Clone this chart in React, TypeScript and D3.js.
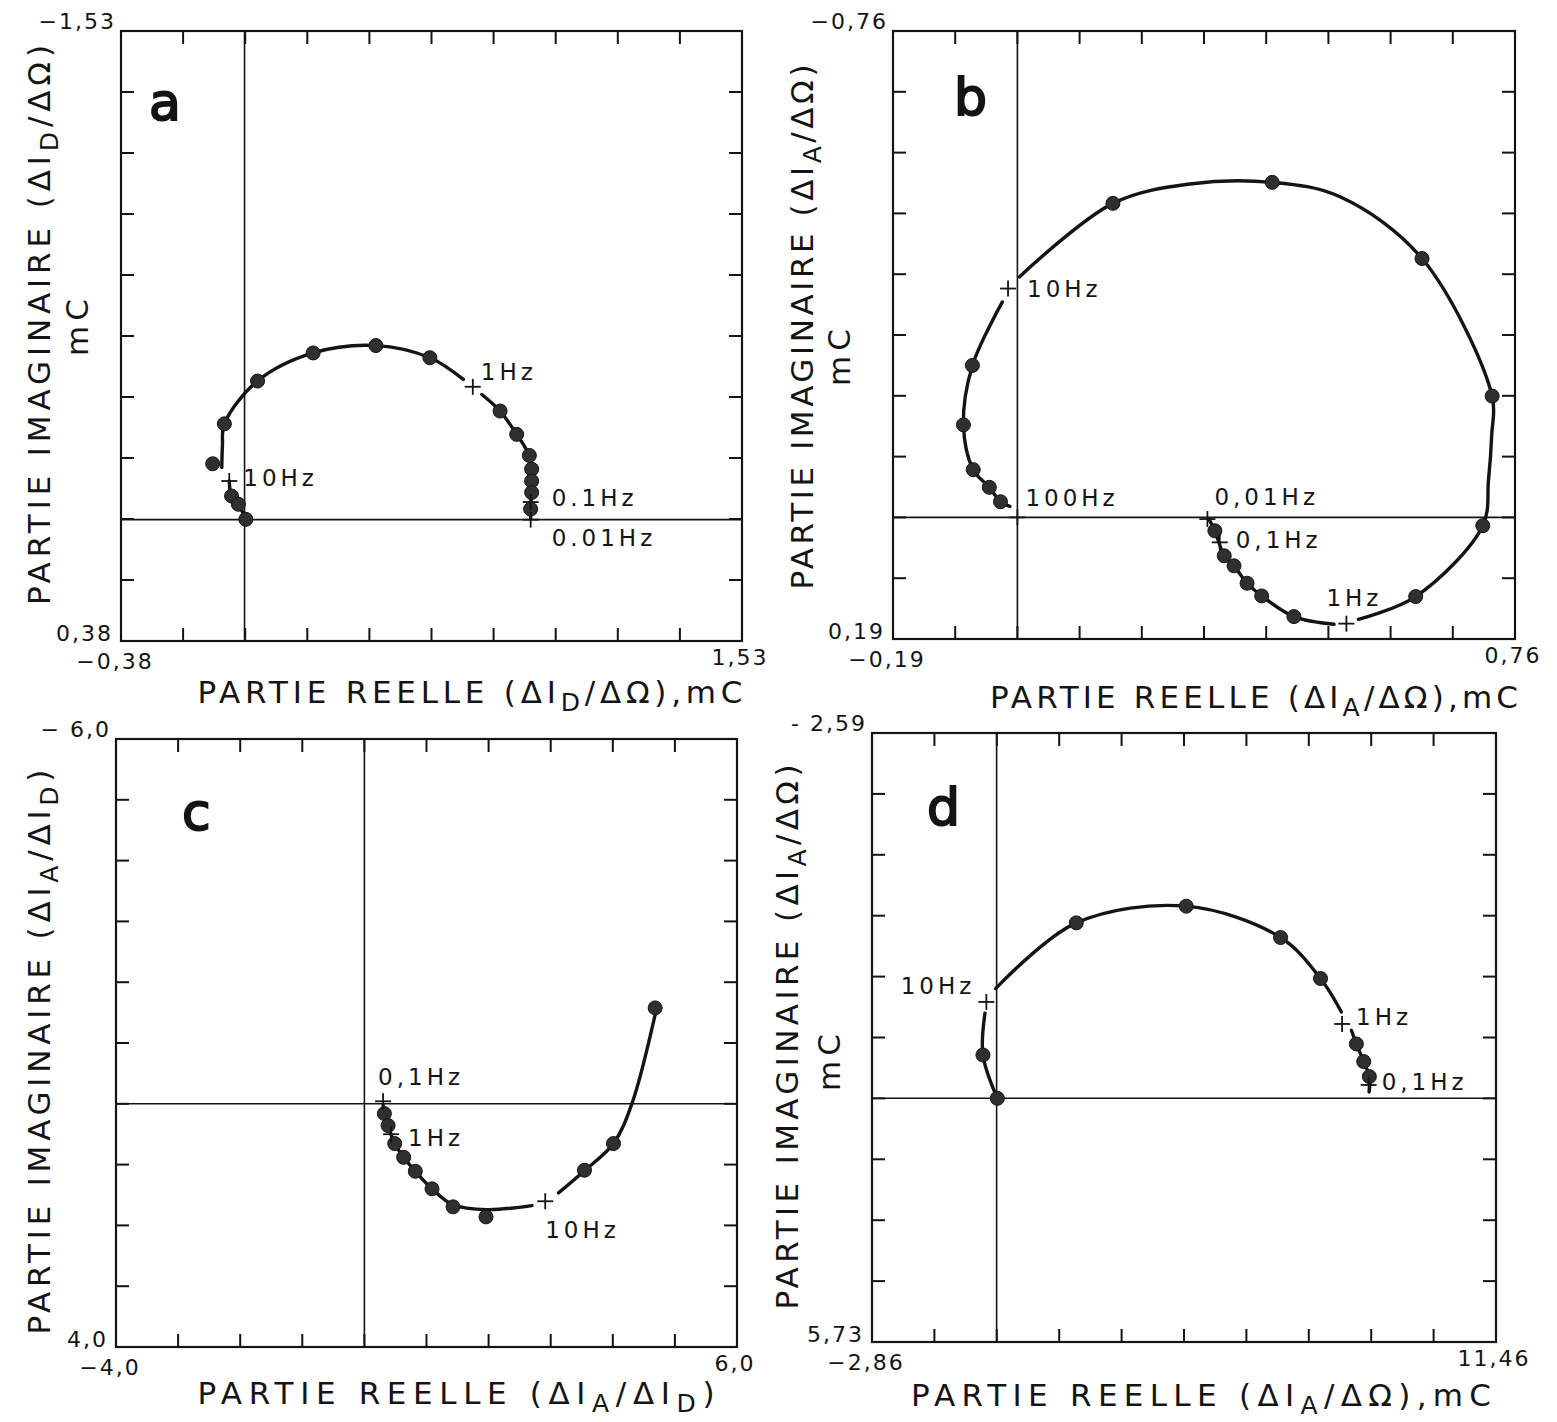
import React from 'react';
import * as d3 from 'd3';

type Pt = [number, number];
type Piece = [string, boolean];
type Cross = { label: string; x: number; y: number };

const FONT = '"DejaVu Sans", Verdana, sans-serif';

// ---------- panel a ----------
const A_X_DOMAIN: Pt = [-0.38, 1.53];
const A_Y_DOMAIN: Pt = [-1.53, 0.38];
const A_TICK_LABELS = ['−1,53', '0,38', '−0,38', '1,53'];
const A_X_TITLE: Piece[] = [['PARTIE REELLE (ΔI', false], ['D', true], ['/ΔΩ),mC', false]];
const A_Y_TITLE: Piece[] = [['PARTIE IMAGINAIRE (ΔI', false], ['D', true], ['/ΔΩ)', false]];
const A_DOTS: Pt[] = [
  [-0.098, -0.175], [-0.062, -0.3], [0.04, -0.434], [0.211, -0.522], [0.404, -0.545],
  [0.57, -0.507], [0.786, -0.34], [0.837, -0.267], [0.876, -0.201], [0.883, -0.158],
  [0.883, -0.121], [0.883, -0.085], [0.88, -0.033], [-0.04, -0.074], [-0.019, -0.048], [0.004, -0.001],
];
const A_CURVE: Pt[][] = [
  [[0.004, -0.001], [-0.019, -0.048], [-0.04, -0.074], [-0.047, -0.121]],
  [[-0.07, -0.163], [-0.068, -0.23], [-0.062, -0.3], [0.04, -0.434], [0.211, -0.522], [0.404, -0.545], [0.57, -0.507], [0.673, -0.439]],
  [[0.73, -0.392], [0.786, -0.34], [0.837, -0.267], [0.876, -0.201], [0.883, -0.158], [0.884, -0.1], [0.88, -0.033], [0.88, -0.005]],
];
const A_CROSSES: Cross[] = [
  { label: '1Hz', x: 0.702, y: -0.416 },
  { label: '10Hz', x: -0.047, y: -0.121 },
  { label: '0.1Hz', x: 0.88, y: -0.055 },
  { label: '0.01Hz', x: 0.88, y: 0.0 },
];

// ---------- panel b ----------
const B_X_DOMAIN: Pt = [-0.19, 0.76];
const B_Y_DOMAIN: Pt = [-0.76, 0.19];
const B_TICK_LABELS = ['−0,76', '0,19', '−0,19', '0,76'];
const B_X_TITLE: Piece[] = [['PARTIE REELLE (ΔI', false], ['A', true], ['/ΔΩ),mC', false]];
const B_Y_TITLE: Piece[] = [['PARTIE IMAGINAIRE (ΔI', false], ['A', true], ['/ΔΩ)', false]];
const B_DOTS: Pt[] = [
  [-0.0258, -0.0245], [-0.0429, -0.047], [-0.0675, -0.0746], [-0.0824, -0.1446], [-0.0687, -0.2375],
  [0.1459, -0.4907], [0.3892, -0.5235], [0.618, -0.4045], [0.7251, -0.1895], [0.7108, 0.013],
  [0.6083, 0.1237], [0.4223, 0.155], [0.3731, 0.1227], [0.3508, 0.1028], [0.3308, 0.0757],
  [0.3159, 0.06], [0.3016, 0.0209],
];
const B_CURVE: Pt[][] = [
  [[-0.0114, -0.0172], [-0.0258, -0.0245], [-0.0429, -0.047], [-0.0675, -0.0746], [-0.0824, -0.1446], [-0.0687, -0.2375], [-0.0229, -0.3367]],
  [[0.0029, -0.3758], [0.1459, -0.4907], [0.2636, -0.521], [0.3892, -0.5235], [0.4927, -0.501], [0.618, -0.4045], [0.7251, -0.1895], [0.7245, -0.13], [0.7195, -0.058], [0.7108, 0.013], [0.6083, 0.1237], [0.5208, 0.1592]],
  [[0.4836, 0.167], [0.4223, 0.155], [0.3731, 0.1227], [0.3508, 0.1028], [0.3308, 0.0757], [0.3159, 0.06], [0.3016, 0.0209], [0.2919, 0.0016]],
];
const B_CROSSES: Cross[] = [
  { label: '10Hz', x: -0.0143, y: -0.3576 },
  { label: '100Hz', x: 0, y: 0 },
  { label: '0,01Hz', x: 0.2902, y: 0.0026 },
  { label: '0,1Hz', x: 0.309, y: 0.039 },
  { label: '1Hz', x: 0.5025, y: 0.166 },
];

// ---------- panel c ----------
const C_X_DOMAIN: Pt = [-4, 6];
const C_Y_DOMAIN: Pt = [-6, 4];
const C_TICK_LABELS = ['− 6,0', '4,0', '−4,0', '6,0'];
const C_X_TITLE: Piece[] = [['PARTIE REELLE (ΔI', false], ['A', true], ['/ΔI', false], ['D', true], [')', false]];
const C_Y_TITLE: Piece[] = [['PARTIE IMAGINAIRE (ΔI', false], ['A', true], ['/ΔI', false], ['D', true], [')', false]];
const C_DOTS: Pt[] = [
  [0.322, 0.161], [0.381, 0.358], [0.488, 0.654], [0.632, 0.88], [0.82, 1.11], [1.089, 1.399],
  [1.427, 1.695], [1.958, 1.86], [3.544, 1.093], [4.011, 0.654], [4.682, -1.577],
];
const C_CURVE: Pt[][] = [
  [[0.301, 0.013], [0.322, 0.161], [0.381, 0.358], [0.488, 0.654], [0.632, 0.88], [0.82, 1.11], [1.089, 1.399], [1.427, 1.66], [1.974, 1.74], [2.698, 1.674]],
  [[3.126, 1.465], [3.544, 1.1], [4.011, 0.654], [4.307, 0.0], [4.682, -1.467]],
];
const C_CROSSES: Cross[] = [
  { label: '0,1Hz', x: 0.301, y: -0.041 },
  { label: '1Hz', x: 0.43, y: 0.5 },
  { label: '10Hz', x: 2.912, y: 1.603 },
];

// ---------- panel d ----------
const D_X_DOMAIN: Pt = [-2.86, 11.46];
const D_Y_DOMAIN: Pt = [-8.59, 5.73];
const D_TICK_LABELS = ['- 2,59', '5,73', '−2,86', '11,46'];
const D_X_TITLE: Piece[] = [['PARTIE REELLE (ΔI', false], ['A', true], ['/ΔΩ),mC', false]];
const D_Y_TITLE: Piece[] = [['PARTIE IMAGINAIRE (ΔI', false], ['A', true], ['/ΔΩ)', false]];
const D_DOTS: Pt[] = [
  [0.016, 0], [-0.314, -1.019], [1.828, -4.125], [4.351, -4.518], [6.516, -3.781],
  [7.433, -2.817], [8.256, -1.278], [8.424, -0.864], [8.554, -0.511],
];
const D_CURVE: Pt[][] = [
  [[0.016, 0], [-0.314, -1.019], [-0.268, -2.0]],
  [[-0.023, -2.581], [1.828, -4.125], [4.351, -4.518], [6.516, -3.781], [7.433, -2.817], [7.912, -2.031]],
  [[8.141, -1.6], [8.256, -1.278], [8.424, -0.864], [8.554, -0.511], [8.55, -0.15]],
];
const D_CROSSES: Cross[] = [
  { label: '10Hz', x: -0.236, y: -2.266 },
  { label: '1Hz', x: 7.928, y: -1.748 },
  { label: '0,1Hz', x: 8.538, y: -0.313 },
];

// label offsets (px) from the cross, and anchor
const A_LABEL_POS: [number, number, string][] = [[8, -7, 'start'], [14, 5, 'start'], [21, 4, 'start'], [21, 26, 'start']];
const B_LABEL_POS: [number, number, string][] = [[19, 8, 'start'], [8, -11, 'start'], [7, -14, 'start'], [16, 6, 'start'], [-20, -18, 'start']];
const C_LABEL_POS: [number, number, string][] = [[-5, -16, 'start'], [17, 12, 'start'], [0, 37, 'start']];
const D_LABEL_POS: [number, number, string][] = [[-11, -8, 'end'], [14, 1, 'start'], [13, 5, 'start']];

const PANELS = [
  {
    id: 'a', letter: 'a', xDomain: A_X_DOMAIN, yDomain: A_Y_DOMAIN, tickLabels: A_TICK_LABELS,
    xTitle: A_X_TITLE, yTitle: A_Y_TITLE, unit: true, dots: A_DOTS, curve: A_CURVE, crosses: A_CROSSES, labelPos: A_LABEL_POS,
    box: { left: 121, top: 31, right: 742, bottom: 641 }, letterAt: [149, 120],
    xTitleAt: [470, 703, 545], yTitleAt: [50, 325, 560], unitAt: [88, 325],
  },
  {
    id: 'b', letter: 'b', xDomain: B_X_DOMAIN, yDomain: B_Y_DOMAIN, tickLabels: B_TICK_LABELS,
    xTitle: B_X_TITLE, yTitle: B_Y_TITLE, unit: true, dots: B_DOTS, curve: B_CURVE, crosses: B_CROSSES, labelPos: B_LABEL_POS,
    box: { left: 893, top: 31, right: 1515, bottom: 639 }, letterAt: [954, 115],
    xTitleAt: [1254, 708, 528], yTitleAt: [813, 327, 525], unitAt: [850, 355],
  },
  {
    id: 'c', letter: 'c', xDomain: C_X_DOMAIN, yDomain: C_Y_DOMAIN, tickLabels: C_TICK_LABELS,
    xTitle: C_X_TITLE, yTitle: C_Y_TITLE, unit: false, dots: C_DOTS, curve: C_CURVE, crosses: C_CROSSES, labelPos: C_LABEL_POS,
    box: { left: 116, top: 739, right: 737, bottom: 1347 }, letterAt: [182, 830],
    xTitleAt: [456, 1404, 517], yTitleAt: [50, 1052, 565], unitAt: [0, 0],
  },
  {
    id: 'd', letter: 'd', xDomain: D_X_DOMAIN, yDomain: D_Y_DOMAIN, tickLabels: D_TICK_LABELS,
    xTitle: D_X_TITLE, yTitle: D_Y_TITLE, unit: true, dots: D_DOTS, curve: D_CURVE, crosses: D_CROSSES, labelPos: D_LABEL_POS,
    box: { left: 872, top: 733, right: 1496, bottom: 1342 }, letterAt: [927, 825],
    xTitleAt: [1201, 1406, 580], yTitleAt: [798, 1037, 545], unitAt: [840, 1060],
  },
];

const INK = '#141414';
const TICK_LEN = 13;
const TITLE_SIZE = 31;

function Title({ pieces, x, y, len, rotate }: { pieces: Piece[]; x: number; y: number; len: number; rotate?: boolean }) {
  const sub = 8;
  let down = false;
  return (
    <text
      x={x} y={y}
      transform={rotate ? `rotate(-90 ${x} ${y})` : undefined}
      textAnchor="middle" fontFamily={FONT} fontSize={TITLE_SIZE} fill={INK}
      textLength={len} lengthAdjust="spacing"
    >
      {pieces.map(([t, isSub], i) => {
        let dy = 0;
        if (isSub && !down) { dy = sub; down = true; }
        else if (!isSub && down) { dy = -sub; down = false; }
        return (
          <tspan key={i} dy={dy} fontSize={isSub ? 25 : TITLE_SIZE}>{t}</tspan>
        );
      })}
    </text>
  );
}

function Panel({ p }: { p: (typeof PANELS)[number] }) {
  const { left, top, right, bottom } = p.box;
  const x = d3.scaleLinear().domain(p.xDomain).range([left, right]);
  const y = d3.scaleLinear().domain(p.yDomain).range([top, bottom]);
  const xt = d3.range(1, 10).map(i => p.xDomain[0] + (i * (p.xDomain[1] - p.xDomain[0])) / 10);
  const yt = d3.range(1, 10).map(i => p.yDomain[0] + (i * (p.yDomain[1] - p.yDomain[0])) / 10);
  const line = d3.line<Pt>().x(d => x(d[0])).y(d => y(d[1])).curve(d3.curveCatmullRom.alpha(0.5));
  const [tl, bl, lx, rx] = p.tickLabels;
  const tickFont = { fontFamily: FONT, fontSize: 22, letterSpacing: 2, fill: INK } as const;

  return (
    <g>
      {/* zero axes */}
      <line x1={x(0)} x2={x(0)} y1={top} y2={bottom} stroke={INK} strokeWidth={1.6} />
      <line x1={left} x2={right} y1={y(0)} y2={y(0)} stroke={INK} strokeWidth={1.6} />
      {/* frame */}
      <rect x={left} y={top} width={right - left} height={bottom - top} fill="none" stroke={INK} strokeWidth={2.2} />
      {/* inward ticks */}
      {xt.map((v, i) => (
        <g key={'x' + i}>
          <line x1={x(v)} x2={x(v)} y1={top} y2={top + TICK_LEN} stroke={INK} strokeWidth={2} />
          <line x1={x(v)} x2={x(v)} y1={bottom} y2={bottom - TICK_LEN} stroke={INK} strokeWidth={2} />
        </g>
      ))}
      {yt.map((v, i) => (
        <g key={'y' + i}>
          <line x1={left} x2={left + TICK_LEN} y1={y(v)} y2={y(v)} stroke={INK} strokeWidth={2} />
          <line x1={right} x2={right - TICK_LEN} y1={y(v)} y2={y(v)} stroke={INK} strokeWidth={2} />
        </g>
      ))}
      {/* corner labels */}
      <text x={left - 5} y={top - 2} textAnchor="end" {...tickFont}>{tl}</text>
      <text x={left - 8} y={bottom} textAnchor="end" {...tickFont}>{bl}</text>
      <text x={left - 6} y={bottom + 28} textAnchor="middle" {...tickFont}>{lx}</text>
      <text x={right - 2} y={bottom + 24} textAnchor="middle" {...tickFont}>{rx}</text>

      {/* curve */}
      {p.curve.map((seg, i) => (
        <path key={'c' + i} d={line(seg) || ''} fill="none" stroke={INK} strokeWidth={3.4} strokeLinecap="round" />
      ))}
      {/* dots */}
      {p.dots.map((d, i) => (
        <circle key={'d' + i} cx={x(d[0])} cy={y(d[1])} r={7} fill="#2f2f2f" stroke={INK} strokeWidth={1} />
      ))}
      {/* frequency crosses */}
      {p.crosses.map((c, i) => {
        const cx = x(c.x), cy = y(c.y);
        const [dx, dy, anchor] = p.labelPos[i];
        return (
          <g key={'f' + i}>
            <line x1={cx - 8} x2={cx + 8} y1={cy} y2={cy} stroke={INK} strokeWidth={1.8} />
            <line x1={cx} x2={cx} y1={cy - 8} y2={cy + 8} stroke={INK} strokeWidth={1.8} />
            <text x={cx + dx} y={cy + dy} textAnchor={anchor} fontFamily={FONT} fontSize={23} letterSpacing={4} fill={INK}>{c.label}</text>
          </g>
        );
      })}

      {/* panel letter */}
      <text x={p.letterAt[0]} y={p.letterAt[1]} fontFamily={FONT} fontSize={52} fill={INK} stroke={INK} strokeWidth={2}>{p.letter}</text>

      {/* axis titles */}
      <Title pieces={p.xTitle} x={p.xTitleAt[0]} y={p.xTitleAt[1]} len={p.xTitleAt[2]} />
      <Title pieces={p.yTitle} x={p.yTitleAt[0]} y={p.yTitleAt[1]} len={p.yTitleAt[2]} rotate />
      {p.unit && (
        <text x={p.unitAt[0]} y={p.unitAt[1]} transform={`rotate(-90 ${p.unitAt[0]} ${p.unitAt[1]})`}
          textAnchor="middle" fontFamily={FONT} fontSize={TITLE_SIZE} letterSpacing={5} fill={INK}>mC</text>
      )}
    </g>
  );
}

export default function App() {
  return (
    <svg width={1557} height={1422} style={{ position: 'absolute', left: 0, top: 0, display: 'block', background: '#fff' }}>
      <rect width={1557} height={1422} fill="#fff" />
      {PANELS.map(p => <Panel key={p.id} p={p} />)}
    </svg>
  );
}
